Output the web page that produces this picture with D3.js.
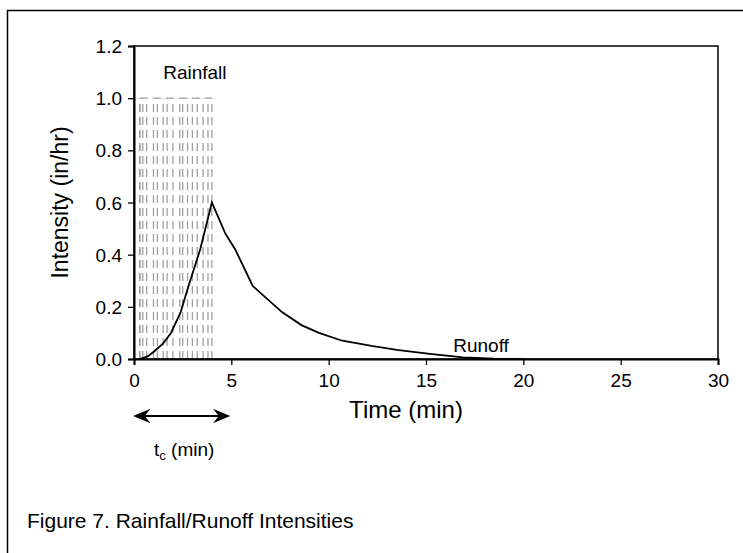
<!DOCTYPE html>
<html>
<head>
<meta charset="utf-8">
<script src="https://cdn.jsdelivr.net/npm/d3@7"></script>
<style>
  body { margin: 0; background: #fff; }
  svg { display: block; font-family: "Liberation Sans", Arial, sans-serif; }
</style>
</head>
<body>
<div id="chart"></div>
<script>
// Rainfall / runoff intensities — hyetograph (dashed) + runoff hydrograph (line)

const xTicks = [0, 5, 10, 15, 20, 25, 30];
const yTicks = [0, 0.2, 0.4, 0.6, 0.8, 1.0, 1.2];

// rainfall: edges of dashed bars (min), constant intensity 1.0 in/hr
const rainEdges = [0.3, 0.45, 0.65, 1.0, 1.2, 1.5, 1.7, 2.0, 2.35, 2.5, 2.75, 3.0, 3.25, 3.55, 3.8, 4.0];
const rainIntensity = 1.0;

// runoff hydrograph
const runoffTime = [0.3, 0.7, 1.0, 1.5, 1.9, 2.4, 2.8, 3.4, 4.0, 4.7, 5.2, 6.1, 7.6, 8.6, 9.5, 10.7, 12.2, 13.5, 15.2, 16.9, 18.5, 20];
const runoffIntensity = [0, 0.01, 0.027, 0.06, 0.1, 0.18, 0.28, 0.42, 0.6, 0.48, 0.42, 0.28, 0.18, 0.13, 0.1, 0.07, 0.05, 0.035, 0.02, 0.006, 0.001, 0];

const tcRange = [0.1, 4.8];

const W = 743, H = 553;
const margin = { top: 46, right: 25, bottom: 194, left: 134 };

const svg = d3.select("#chart").append("svg").attr("width", W).attr("height", H);

// outer frame
svg.append("rect").attr("x", 7.5).attr("y", 10.5).attr("width", W + 10).attr("height", H + 10)
  .attr("fill", "none").attr("stroke", "#000").attr("stroke-width", 1.5);

const x = d3.scaleLinear().domain([0, 30]).range([margin.left, W - margin.right]);
const y = d3.scaleLinear().domain([0, 1.2]).range([H - margin.bottom, margin.top]);

// rainfall bars
const gRain = svg.append("g").attr("stroke", "#a0a0a0").attr("stroke-width", 1.3)
  .attr("stroke-dasharray", "8,5").attr("fill", "none");
gRain.selectAll("line.rain").data(rainEdges).enter().append("line").attr("class", "rain")
  .attr("x1", d => x(d)).attr("x2", d => x(d))
  .attr("y1", y(0)).attr("y2", y(rainIntensity));
gRain.append("line")
  .attr("x1", x(rainEdges[0])).attr("x2", x(rainEdges[rainEdges.length - 1]))
  .attr("y1", y(rainIntensity)).attr("y2", y(rainIntensity));
gRain.append("line").attr("stroke-dasharray", null)
  .attr("x1", x(rainEdges[0])).attr("x2", x(rainEdges[0]))
  .attr("y1", y(0)).attr("y2", y(rainIntensity));

// runoff line
const pts = runoffTime.map((t, i) => [t, runoffIntensity[i]]);
svg.append("path").datum(pts)
  .attr("fill", "none").attr("stroke", "#000").attr("stroke-width", 1.8)
  .attr("d", d3.line().x(d => x(d[0])).y(d => y(d[1])));

// plot frame
svg.append("rect").attr("x", x(0)).attr("y", y(1.2)).attr("width", x(30) - x(0)).attr("height", y(0) - y(1.2))
  .attr("fill", "none").attr("stroke", "#000").attr("stroke-width", 1.5);

// axes
const gx = svg.append("g").attr("transform", `translate(0,${y(0)})`)
  .call(d3.axisBottom(x).tickValues(xTicks).tickSize(6).tickPadding(9).tickFormat(d3.format("d")));
const gy = svg.append("g").attr("transform", `translate(${x(0)},0)`)
  .call(d3.axisLeft(y).tickValues(yTicks).tickSize(6).tickPadding(6).tickFormat(d3.format(".1f")));
[gx, gy].forEach(g => {
  g.select(".domain").attr("stroke", "#000").attr("stroke-width", 2);
  g.selectAll(".tick line").attr("stroke", "#000").attr("stroke-width", 1.3);
  g.selectAll(".tick text").attr("fill", "#000").attr("font-size", 19)
    .attr("font-family", "'Liberation Sans', Arial, sans-serif");
});
gy.selectAll(".tick text").attr("dy", "0.35em");

// axis titles
svg.append("text").attr("x", 406).attr("y", 418).attr("text-anchor", "middle")
  .attr("font-size", 24).text("Time (min)");
svg.append("text").attr("transform", `translate(68,${(y(0) + y(1.2)) / 2}) rotate(-90)`)
  .attr("text-anchor", "middle").attr("font-size", 23).text("Intensity (in/hr)");

// annotations
svg.append("text").attr("x", x(1.5)).attr("y", 79).attr("font-size", 19).text("Rainfall");
svg.append("text").attr("x", x(16.4)).attr("y", 352).attr("font-size", 19).text("Runoff");

// tc arrow
const defs = svg.append("defs");
["start", "end"].forEach(k => {
  defs.append("marker").attr("id", "arr-" + k)
    .attr("viewBox", "-2 0 12 10").attr("refX", 8).attr("refY", 5)
    .attr("markerWidth", 10).attr("markerHeight", 8).attr("markerUnits", "strokeWidth")
    .attr("orient", k === "start" ? "auto-start-reverse" : "auto")
    .append("path").attr("d", "M-2,0 L10,5 L-2,10 L2,5 Z").attr("fill", "#000");
});
svg.append("line")
  .attr("x1", x(tcRange[0])).attr("x2", x(tcRange[1]))
  .attr("y1", 416).attr("y2", 416)
  .attr("stroke", "#000").attr("stroke-width", 1.8)
  .attr("marker-start", "url(#arr-start)").attr("marker-end", "url(#arr-end)");

const tc = svg.append("text").attr("x", 154).attr("y", 456).attr("font-size", 19);
tc.append("tspan").text("t");
tc.append("tspan").attr("font-size", 13).attr("dy", 4).text("c");
tc.append("tspan").attr("dy", -4).text(" (min)");

// caption
svg.append("text").attr("x", 27).attr("y", 528).attr("font-size", 21)
  .text("Figure 7. Rainfall/Runoff Intensities");
</script>
</body>
</html>
